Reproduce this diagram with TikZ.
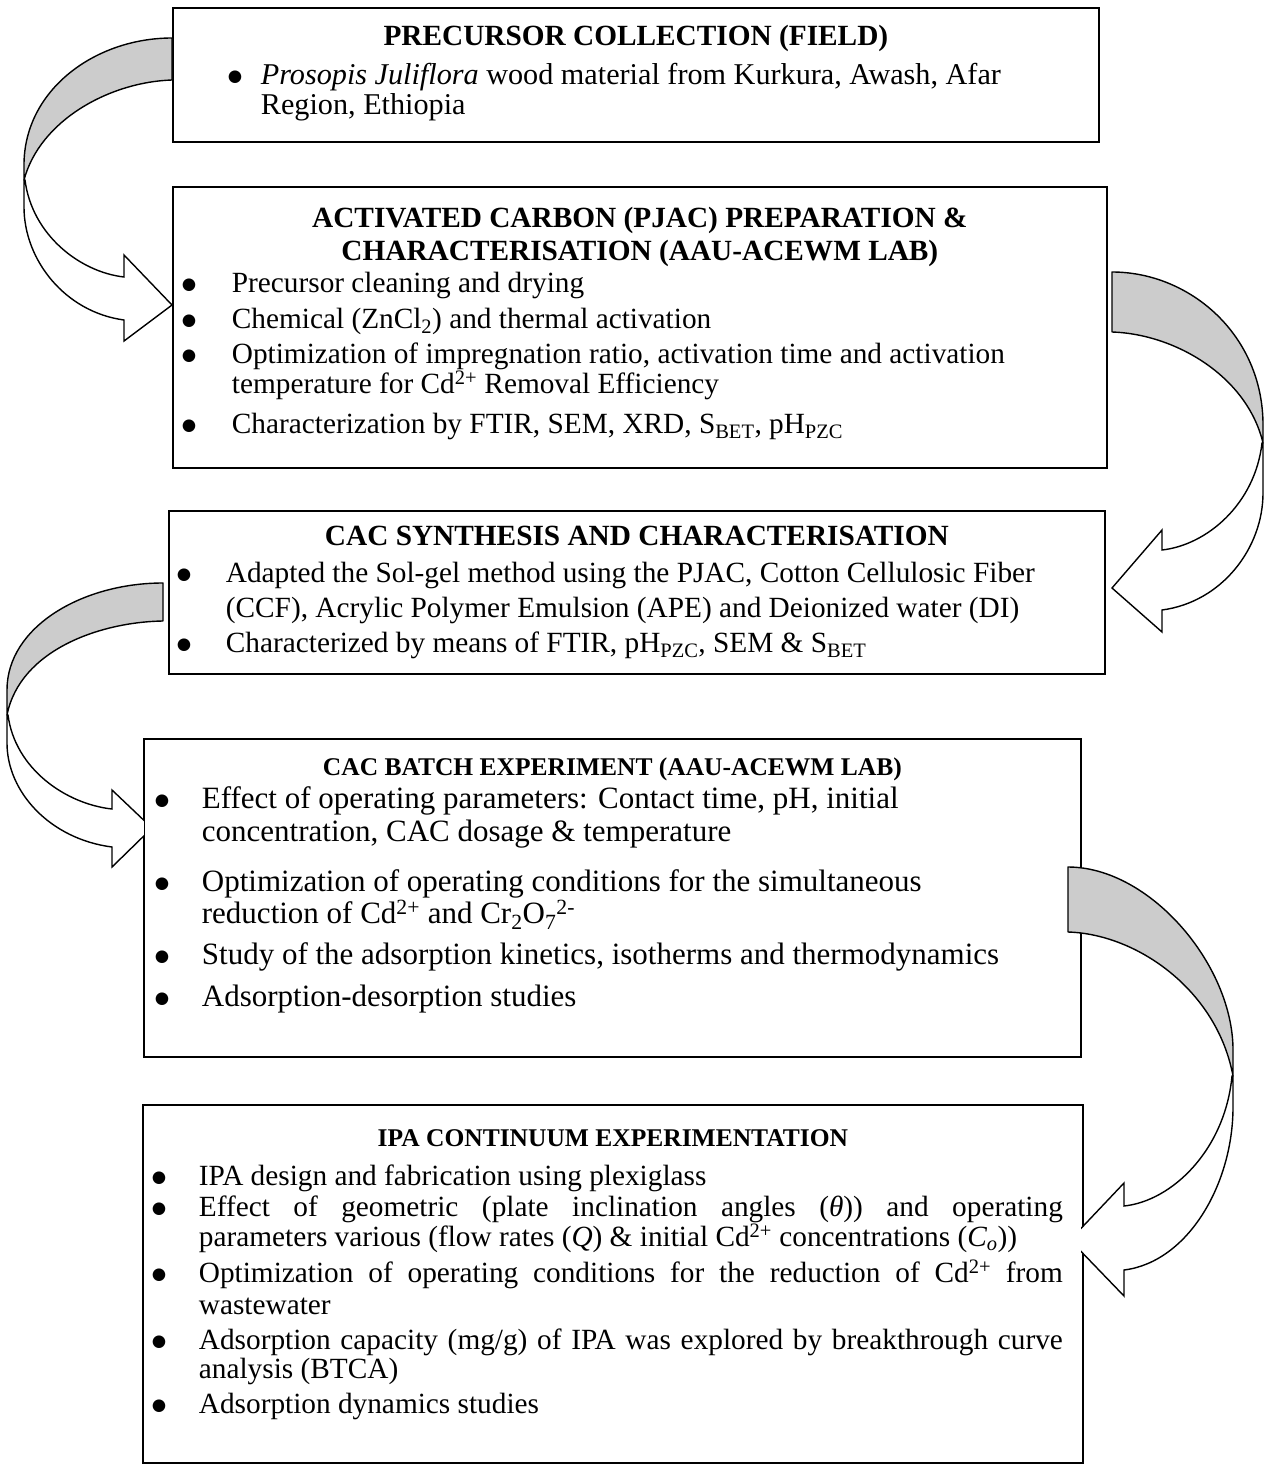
\documentclass[tikz,border=0pt]{standalone}
\usepackage{fontspec}
\setmainfont{Liberation Serif}
\newfontfamily\dotfont{DejaVu Sans}

% horizontal layout of a bulleted list inside a box
\newlength\bulx   % bullet offset from the box edge
\newlength\txtx   % text offset from the box edge
\newlength\jw     % width of a justified line
\newcommand\bsetup[1]{\fontsize{#1}{0pt}\selectfont\lineskiplimit=-1000pt\lineskip=0pt\relax}
\newcommand\bdot{\raisebox{3.4pt}{\dotfont\fontsize{16.5pt}{0pt}\selectfont ●}}
\newcommand\btitle[2]{\makebox[\linewidth][c]{\rule{0pt}{#1}\bfseries #2}}
\newcommand\bitem[1]{\makebox[\linewidth][l]{\makebox[\txtx][l]{\hspace*{\bulx}\bdot}#1}}
\newcommand\bjust[1]{\makebox[\linewidth][l]{\makebox[\txtx][l]{\hspace*{\bulx}\bdot}\makebox[\jw][s]{#1}}}
\newcommand\cont[1]{\makebox[\linewidth][l]{\hspace*{\txtx}#1}}

\tikzset{
  box/.style={draw, line width=1.8pt, inner sep=0pt, anchor=north west},
  band/.style={fill=gray!40, draw=black, line width=1.4pt, line join=round},
  front/.style={fill=white, draw=black, line width=1.4pt, line join=miter},
}

\begin{document}
\begin{tikzpicture}[x=1pt,y=-1pt]
\useasboundingbox (0,0) rectangle (1265,1466);

% ---------- boxes ----------
\node[box] (b1) at (172,7) {\parbox[t][134pt][t]{926pt}{\bsetup{30.2pt}%
  \setlength\bulx{55pt}\setlength\txtx{88pt}%
  \btitle{38pt}{\fontsize{29.3pt}{0pt}\selectfont PRECURSOR COLLECTION (FIELD)}\\[39pt]
  \bitem{\textit{Prosopis Juliflora} wood material from Kurkura, Awash, Afar}\\[30pt]
  \cont{Region, Ethiopia}}};

\node[box] (b2) at (172,186) {\parbox[t][281pt][t]{934pt}{\bsetup{29.3pt}%
  \setlength\bulx{9pt}\setlength\txtx{59pt}%
  \btitle{41pt}{ACTIVATED CARBON (PJAC) PREPARATION \&}\\[33pt]
  \btitle{0pt}{CHARACTERISATION (AAU-ACEWM LAB)}\\[32pt]
  \bitem{Precursor cleaning and drying}\\[36pt]
  \bitem{Chemical (ZnCl\textsubscript{2}) and thermal activation}\\[35pt]
  \bitem{Optimization of impregnation ratio, activation time and activation}\\[30pt]
  \cont{temperature for Cd\textsuperscript{2+} Removal Efficiency}\\[40pt]
  \bitem{Characterization by FTIR, SEM, XRD, S\textsubscript{BET}, pH\textsubscript{PZC}}}};

\node[box] (b3) at (168,510) {\parbox[t][163pt][t]{936pt}{\bsetup{29.3pt}%
  \setlength\bulx{8pt}\setlength\txtx{57pt}%
  \btitle{35pt}{CAC SYNTHESIS AND CHARACTERISATION}\\[37pt]
  \bitem{Adapted the Sol-gel method using the PJAC, Cotton Cellulosic Fiber}\\[35pt]
  \cont{(CCF), Acrylic Polymer Emulsion (APE) and Deionized water (DI)}\\[35pt]
  \bitem{Characterized by means of FTIR, pH\textsubscript{PZC}, SEM \& S\textsubscript{BET}}}};

\node[box] (b4) at (143,738) {\parbox[t][318pt][t]{937pt}{\bsetup{31pt}%
  \setlength\bulx{11pt}\setlength\txtx{58pt}%
  \btitle{37pt}{\fontsize{25.5pt}{0pt}\selectfont CAC BATCH EXPERIMENT (AAU-ACEWM LAB)}\\[33pt]
  \bitem{Effect of operating parameters: Contact time, pH, initial}\\[33pt]
  \cont{concentration, CAC dosage \& temperature}\\[50pt]
  \bitem{Optimization of operating conditions for the simultaneous}\\[32pt]
  \cont{reduction of Cd\textsuperscript{2+} and Cr\textsubscript{2}O\textsubscript{7}\textsuperscript{2-}}\\[41pt]
  \bitem{Study of the adsorption kinetics, isotherms and thermodynamics}\\[42pt]
  \bitem{Adsorption-desorption studies}}};

\node[box] (b5) at (142,1104) {\parbox[t][358pt][t]{940pt}{\bsetup{29.3pt}%
  \setlength\bulx{9pt}\setlength\txtx{56pt}\setlength\jw{864pt}%
  \btitle{42pt}{\fontsize{25.5pt}{0pt}\selectfont IPA CONTINUUM EXPERIMENTATION}\\[39pt]
  \bitem{IPA design and fabrication using plexiglass}\\[31pt]
  \bjust{Effect of geometric (plate inclination angles (\textit{θ})) and operating}\\[30pt]
  \cont{parameters various (flow rates (\textit{Q}) \& initial Cd\textsuperscript{2+} concentrations (\textit{C\textsubscript{o}}))}\\[36pt]
  \bjust{Optimization of operating conditions for the reduction of Cd\textsuperscript{2+} from}\\[32pt]
  \cont{wastewater}\\[35pt]
  \bjust{Adsorption capacity (mg/g) of IPA was explored by breakthrough curve}\\[29pt]
  \cont{analysis (BTCA)}\\[35pt]
  \bitem{Adsorption dynamics studies}}};

% ---------- curved block arrows ----------
% field -> preparation (left side)
\path[band] (172,38) .. controls (95,38) and (24,90) .. (24,165) -- (24,180)
  .. controls (40,120) and (110,82) .. (172,80) -- cycle;
\path[front] (24,180) -- (24,207) .. controls (24,260) and (65,312) .. (124,320)
  -- (124,341) -- (172,305) -- (124,255) -- (124,277)
  .. controls (80,272) and (32,235) .. (25,180) -- cycle;

% preparation -> synthesis (right side)
\path[band] (1112,272) .. controls (1190,272) and (1263,335) .. (1263,425) -- (1263,443)
  .. controls (1247,376) and (1175,334) .. (1112,332) -- cycle;
\path[front] (1263,443) -- (1263,493) .. controls (1263,548) and (1222,602) .. (1162,610)
  -- (1162,632) -- (1112,588) -- (1162,530) -- (1162,550)
  .. controls (1207,545) and (1255,504) .. (1262,443) -- cycle;

% synthesis -> batch experiment (left side, head tucked under the box edge)
\begin{scope}
  \clip (0,0) -- (1265,0) -- (1265,737) -- (143.9,737) -- (143.9,1466) -- (0,1466) -- cycle;
  \path[band] (163,583) .. controls (82,583) and (7,627) .. (7,690) -- (7,715)
    .. controls (20,650) and (100,622) .. (163,621) -- cycle;
  \path[front] (7,715) -- (7,743) .. controls (7,792) and (50,839) .. (112,847)
    -- (112,867) -- (152,828) -- (112,790) -- (112,809)
    .. controls (66,804) and (15,769) .. (8,715) -- cycle;
\end{scope}

% batch experiment -> continuum experimentation (right side)
\begin{scope}
  \clip (0,0) -- (1265,0) -- (1265,1466) -- (1081.1,1466) -- (1081.1,1103.1) -- (0,1103.1) -- cycle;
  \path[band] (1068,867) .. controls (1150,867) and (1233,965) .. (1233,1050) -- (1233,1076)
    .. controls (1217,990) and (1137,934) .. (1068,932) -- cycle;
  \path[front] (1233,1076) -- (1233,1107) .. controls (1233,1184) and (1188,1262) .. (1124,1270)
    -- (1124,1296) -- (1070,1240) -- (1124,1183) -- (1124,1206)
    .. controls (1172,1201) and (1225,1150) .. (1232,1076) -- cycle;
\end{scope}
\end{tikzpicture}
\end{document}
